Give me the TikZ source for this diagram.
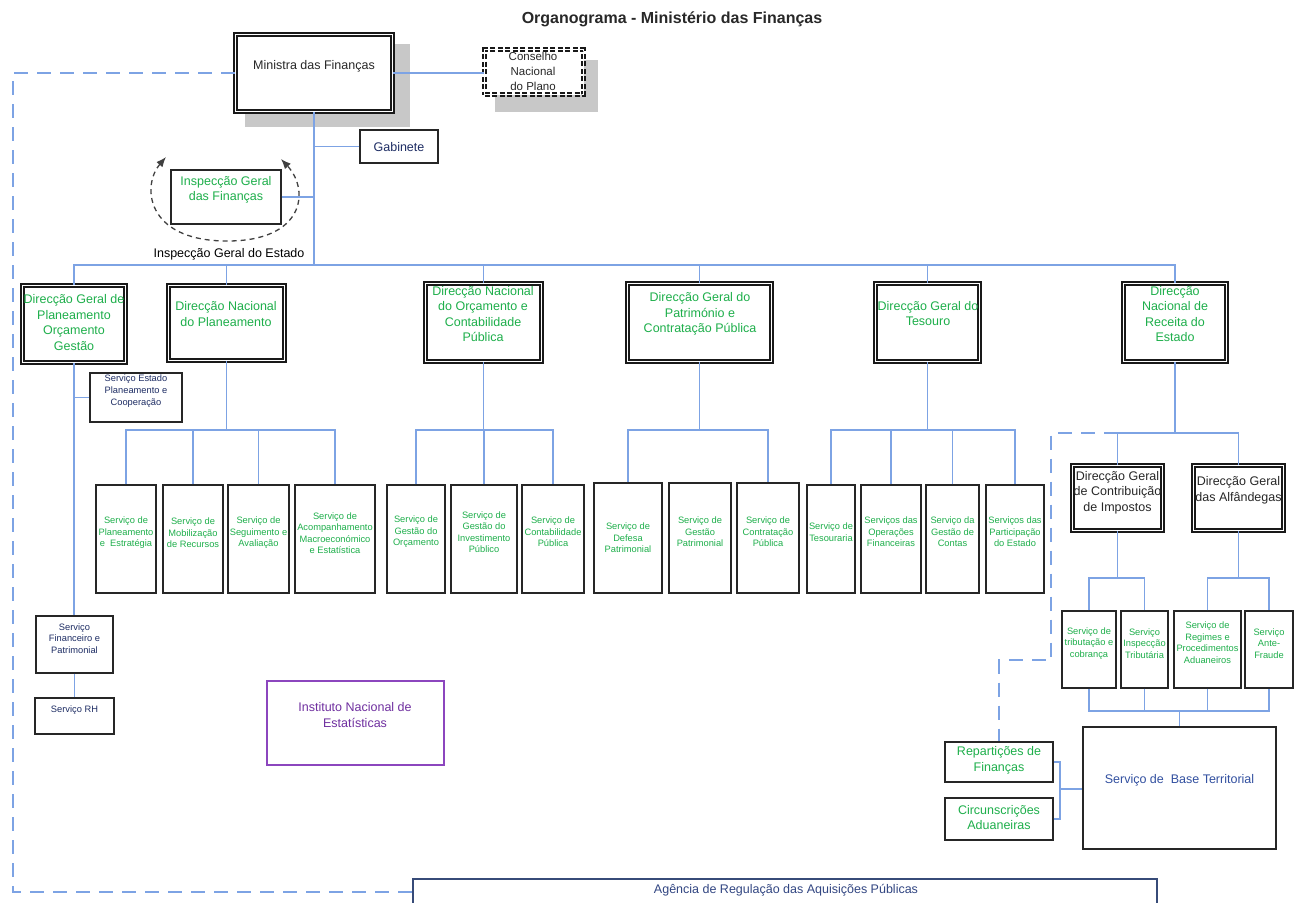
\documentclass[tikz,border=0pt]{standalone}
\usepackage{fontspec}
\setmainfont{Liberation Sans}
\usetikzlibrary{arrows.meta}
\definecolor{lineblue}{RGB}{125,163,228}
\definecolor{grn}{RGB}{30,175,75}
\definecolor{navy}{RGB}{30,45,100}
\definecolor{dgray}{RGB}{40,40,40}
\definecolor{purp}{RGB}{112,48,160}
\definecolor{purpb}{RGB}{140,70,190}
\definecolor{tblue}{RGB}{50,80,160}
\definecolor{agb}{RGB}{55,75,120}
\definecolor{agt}{RGB}{50,70,130}
\definecolor{shad}{RGB}{200,200,200}
\newcommand\bx[6]{\node[#1, minimum width={#4-#2}, minimum height={#5-#3}] (#6) at ({(#2+#4)/2},{(#3+#5)/2}) {};}
\tikzset{
  dbox/.style={draw=black!90, double, double distance=1.7pt, line width=1.5pt, fill=white, inner sep=0pt},
  sbox/.style={draw=black!85, line width=1.4pt, fill=white, inner sep=0pt},
  conn/.style={draw=lineblue, line width=1.4pt},
  dconn/.style={conn, dash pattern=on 14pt off 9pt},
  tg/.style={font=\fontsize{12.5}{15.5}\selectfont, text=grn, align=center, inner sep=0pt},
  tk/.style={font=\fontsize{12.5}{15.5}\selectfont, text=dgray, align=center, inner sep=0pt},
  ts/.style={font=\fontsize{9.3}{11.5}\selectfont, text=grn, align=center, inner sep=0pt},
  tn/.style={font=\fontsize{9.3}{11.7}\selectfont, text=navy, align=center, inner sep=0pt},
  shadowbox/.style={fill=shad, draw=none, inner sep=0pt},
}
\begin{document}
\begin{tikzpicture}[x=1pt,y=-1pt]
\useasboundingbox (0,0) rectangle (1295,902);
\clip (0,0) rectangle (1295,902);
% title
\node[font=\bfseries\fontsize{16}{19}\selectfont, text=dgray] (title) at (672,19) {Organograma - Ministério das Finanças};
% shadows
\bx{shadowbox}{245}{44}{410}{127}{mfsh}
\bx{shadowbox}{495}{60}{598}{112}{cnpsh}
% top boxes
\bx{dbox}{235.5}{34.5}{392.5}{111.5}{mf}
\node[tk] (mft) at (314,66) {Ministra das Finanças};
\bx{dbox, dash pattern=on 5pt off 2.5pt}{484.5}{49.5}{583.5}{94.5}{cnp}
\node[tk, font=\fontsize{11.5}{15}\selectfont] (cnpt) at (533,71) {Conselho\\Nacional\\do Plano};
\bx{sbox}{360}{130}{438}{163}{gab}
\node[tk, text=navy] (gabt) at (399,147) {Gabinete};
\bx{sbox}{171}{170}{281}{224}{igf}
\node[tg, font=\fontsize{12.5}{15}\selectfont] (igft) at (226,190) {Inspecção Geral\\das Finanças};
% arc
\coordinate (arcL) at (166,157);
\coordinate (arcR) at (281,159);
\coordinate (arcB) at (225,241);
\draw[black!75, line width=1.3pt, dash pattern=on 5pt off 4pt, {Latex[length=10pt,width=8pt]}-{Latex[length=10pt,width=8pt]}]
  (arcL) .. controls (142,185) and (145,240) .. (arcB) .. controls (305,242) and (310,190) .. (arcR);
\node[tk, text=black] (ige) at (229,254) {Inspecção Geral do Estado};
% level 2
\bx{dbox}{22.5}{285.5}{125.5}{362.5}{d1}
\bx{dbox}{168.5}{285.5}{284.5}{360.5}{d2}
\bx{dbox}{425.5}{283.5}{541.5}{361.5}{d3}
\bx{dbox}{627.5}{283.5}{771.5}{361.5}{d4}
\bx{dbox}{875.5}{283.5}{979.5}{361.5}{d5}
\bx{dbox}{1123.5}{283.5}{1226.5}{361.5}{d6}
\node[tg] (d1t) at (74,322.5) {Direcção Geral de\\Planeamento\\Orçamento\\Gestão};
\node[tg] (d2t) at (226,314) {Direcção Nacional\\do Planeamento};
\node[tg] (d3t) at (483,314) {Direcção Nacional\\do Orçamento e\\Contabilidade\\Pública};
\node[tg] (d4t) at (700,314) {Direcção Geral do\\Património e\\Contratação Pública};
\node[tg] (d5t) at (928,313.5) {Direcção Geral do\\Tesouro};
\node[tg] (d6t) at (1175,314) {Direcção\\Nacional de\\Receita do\\Estado};
% top connectors
\coordinate (b0) at (mf.south |- 0,265);
\draw[conn] (mf.south) -- (b0);
\draw[conn] (mf.east) -- (mf.east -| cnp.west);
\draw[conn] (gab.west) -- (gab.west -| mf.south);
\draw[conn] (igf.east) -- (igf.east -| mf.south);
\draw[conn] (d1.north) |- (b0) -| (d6.north);
\draw[conn] (d2.north) -- (d2.north |- b0);
\draw[conn] (d3.north) -- (d3.north |- b0);
\draw[conn] (d4.north) -- (d4.north |- b0);
\draw[conn] (d5.north) -- (d5.north |- b0);
% under d1
\bx{sbox}{90}{373}{182}{422}{sepc}
\node[tn] (sepct) at (136,391) {Serviço Estado\\Planeamento e\\Cooperação};
\bx{sbox}{36}{616}{113}{673}{sfp}
\node[tn] (sfpt) at (74.5,638.5) {Serviço\\Financeiro e\\Patrimonial};
\bx{sbox}{35}{698}{114}{734}{srh}
\node[tn] (srht) at (74.5,710) {Serviço RH};
\draw[conn] (d1.south) -- (d1.south |- sfp.north);
\draw[conn] (sepc.west) -- (sepc.west -| d1.south);
\draw[conn] (sfp.south) -- (sfp.south |- srh.north);
% under d2
\bx{sbox}{96}{485}{156}{593}{p1}
\bx{sbox}{163}{485}{223}{593}{p2}
\bx{sbox}{228}{485}{289}{593}{p3}
\bx{sbox}{295}{485}{375}{593}{p4}
\node[ts] (p1t) at (126,533) {Serviço de\\Planeamento\\e\ \ Estratégia};
\node[ts] (p2t) at (193,533) {Serviço de\\Mobilização\\de Recursos};
\node[ts] (p3t) at (258.5,533) {Serviço de\\Seguimento e\\Avaliação};
\node[ts] (p4t) at (335,533) {Serviço de\\Acompanhamento\\Macroeconómico\\e Estatística};
\coordinate (b2) at (d2.south |- 0,430);
\draw[conn] (d2.south) -- (b2);
\draw[conn] (p1.north) |- (b2) -| (p4.north);
\draw[conn] (p2.north) -- (p2.north |- b2);
\draw[conn] (p3.north) -- (p3.north |- b2);
% under d3
\bx{sbox}{387}{485}{445}{593}{o1}
\bx{sbox}{451}{485}{517}{593}{o2}
\bx{sbox}{522}{485}{584}{593}{o3}
\node[ts] (o1t) at (416,532) {Serviço de\\Gestão do\\Orçamento};
\node[ts] (o2t) at (484,532) {Serviço de\\Gestão do\\Investimento\\Público};
\node[ts] (o3t) at (553,532) {Serviço de\\Contabilidade\\Pública};
\coordinate (b3) at (d3.south |- 0,430);
\draw[conn] (d3.south) -- (b3);
\draw[conn] (o1.north) |- (b3) -| (o3.north);
\draw[conn] (o2.north) -- (o2.north |- b3);
% under d4
\bx{sbox}{594}{483}{662}{593}{q1}
\bx{sbox}{669}{483}{731}{593}{q2}
\bx{sbox}{737}{483}{799}{593}{q3}
\node[ts] (q1t) at (628,538) {Serviço de\\Defesa\\Patrimonial};
\node[ts] (q2t) at (700,532) {Serviço de\\Gestão\\Patrimonial};
\node[ts] (q3t) at (768,532) {Serviço de\\Contratação\\Pública};
\coordinate (b4) at (d4.south |- 0,430);
\draw[conn] (d4.south) -- (b4);
\draw[conn] (q1.north) |- (b4) -| (q3.north);
% under d5
\bx{sbox}{807}{485}{855}{593}{t1}
\bx{sbox}{861}{485}{921}{593}{t2}
\bx{sbox}{926}{485}{979}{593}{t3}
\bx{sbox}{986}{485}{1044}{593}{t4}
\node[ts] (t1t) at (831,532) {Serviço de\\Tesouraria};
\node[ts] (t2t) at (891,532) {Serviços das\\Operações\\Financeiras};
\node[ts] (t3t) at (952.5,532) {Serviço da\\Gestão de\\Contas};
\node[ts] (t4t) at (1015,532) {Serviços das\\Participação\\do Estado};
\coordinate (b5) at (d5.south |- 0,430);
\draw[conn] (d5.south) -- (b5);
\draw[conn] (t1.north) |- (b5) -| (t4.north);
\draw[conn] (t2.north) -- (t2.north |- b5);
\draw[conn] (t3.north) -- (t3.north |- b5);
% under d6
\bx{dbox}{1072.5}{465.5}{1162.5}{530.5}{dgci}
\bx{dbox}{1193.5}{465.5}{1283.5}{530.5}{dga}
\node[tk] (dgcit) at (1117.5,492.5) {Direcção Geral\\de Contribuição\\de Impostos};
\node[tk] (dgat) at (1238.5,490.5) {Direcção Geral\\das Alfândegas};
\coordinate (b6) at (d6.south |- 0,433);
\draw[conn] (d6.south) -- (b6);
\draw[conn] (dgci.north) |- (b6) -| (dga.north);
% level 4
\bx{sbox}{1062}{611}{1116}{688}{r1}
\bx{sbox}{1121}{611}{1168}{688}{r2}
\bx{sbox}{1174}{611}{1241}{688}{r3}
\bx{sbox}{1245}{611}{1293}{688}{r4}
\node[ts] (r1t) at (1089,643.5) {Serviço de\\tributação e\\cobrança};
\node[ts] (r2t) at (1144.5,643.5) {Serviço\\Inspecção\\Tributária};
\node[ts] (r3t) at (1207.5,642.5) {Serviço de\\Regimes e\\Procedimentos\\Aduaneiros};
\node[ts] (r4t) at (1269,643.5) {Serviço\\Ante-\\Fraude};
\coordinate (b7a) at (dgci.south |- 0,578);
\coordinate (b7b) at (dga.south |- 0,578);
\draw[conn] (dgci.south) -- (b7a);
\draw[conn] (r1.north) |- (b7a) -| (r2.north);
\draw[conn] (dga.south) -- (b7b);
\draw[conn] (r3.north) |- (b7b) -| (r4.north);
% base territorial
\bx{sbox}{1083}{727}{1276}{849}{sbt}
\node[tk, text=tblue] (sbtt) at (1179.5,780) {Serviço de\ \ Base Territorial};
\coordinate (b8) at (sbt.north |- 0,711);
\draw[conn] (r1.south) |- (b8) -| (r4.south);
\draw[conn] (r2.south) -- (r2.south |- b8);
\draw[conn] (r3.south) -- (r3.south |- b8);
\draw[conn] (b8) -- (sbt.north);
\bx{sbox}{945}{742}{1053}{782}{rf}
\bx{sbox}{945}{798}{1053}{840}{ca}
\node[tg] (rft) at (999,760.5) {Repartições de\\Finanças};
\node[tg] (cat) at (999,817.5) {Circunscrições\\Aduaneiras};
\coordinate (bk) at (1060,789);
\draw[conn] (rf.east) -| (bk);
\draw[conn] (ca.east) -| (bk);
\draw[conn] (bk) -- (bk -| sbt.west);
% dashed link to reparticoes
\coordinate (rd1) at (1051,660);
\draw[dconn] (b7a |- b6) -| (rd1) -| (rf.north);
% INE
\bx{draw=purpb, line width=1.3pt, fill=white, inner sep=0pt}{267}{681}{444}{765}{ine}
\node[tg, text=purp] (inet) at (355,715) {Instituto Nacional de\\Estatísticas};
% agencia
\bx{draw=agb, line width=1.3pt, fill=white, inner sep=0pt}{413}{879}{1157}{915}{arap}
\node[tk, text=agt] (arapt) at (786,890) {Agência de Regulação das Aquisições Públicas};
% left dashed frame
\coordinate (fl) at (13,892);
\draw[dconn] (mf.west) -| (fl) -- (fl -| arap.west);
\end{tikzpicture}
\end{document}
